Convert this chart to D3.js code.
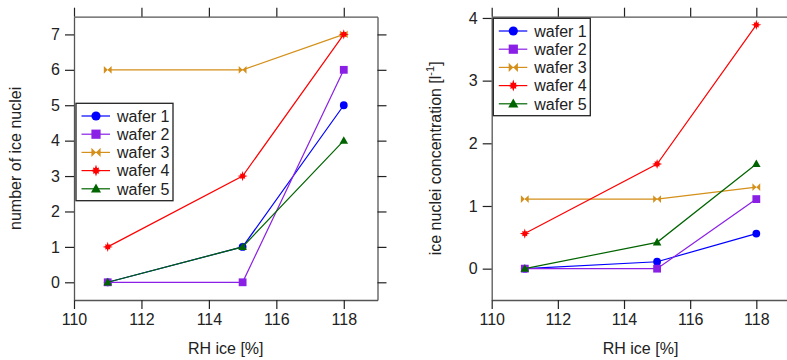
<!DOCTYPE html>
<html>
<head>
<meta charset="utf-8">
<script src="https://cdn.jsdelivr.net/npm/d3@7"></script>
<style>
  body { margin: 0; background: #fff; }
  svg { display: block; font-family: "Liberation Sans", Arial, sans-serif; }
  .tick text { font-size: 16px; fill: #222; }
</style>
</head>
<body>
<svg id="chart" width="787" height="360"></svg>
<script>
// RH ice values (x) shared by both panels
const rhIce = [111, 115, 118];
const seriesNames = ['wafer 1', 'wafer 2', 'wafer 3', 'wafer 4', 'wafer 5'];

// number of ice nuclei
const count1 = [0, 1, 5];
const count2 = [0, 0, 6];
const count3 = [6, 6, 7];
const count4 = [1, 3, 7];
const count5 = [0, 1, 4];

// ice nuclei concentration [1/l]
const conc1 = [0, 0.11, 0.56];
const conc2 = [0, 0, 1.11];
const conc3 = [1.11, 1.11, 1.30];
const conc4 = [0.56, 1.67, 3.89];
const conc5 = [0, 0.42, 1.67];

const xTicks = [110, 112, 114, 116, 118];
const countTicks = [0, 1, 2, 3, 4, 5, 6, 7];
const concTicks = [0, 1, 2, 3, 4];

const colors = ['#0000ff', '#8a1fe6', '#d4901a', '#ff0000', '#006400'];

// marker paths, centered at 0,0
function markerPath(i, s) {
    if (i === 0) return d3.symbol(d3.symbolCircle, Math.PI * s * s)();
    if (i === 1) return `M${-s},${-s}H${s}V${s}H${-s}Z`;
    if (i === 2) return `M${-s},${-s}L0,0L${-s},${s}Z M${s},${-s}L0,0L${s},${s}Z`;
    if (i === 3) {
        // 8 point star: long cardinal points, short diagonal ones
        const pts = [];
        for (let k = 0; k < 16; k++) {
            const a = k * Math.PI / 8 - Math.PI / 2;
            const r = k % 4 === 0 ? s * 1.3 : (k % 2 === 0 ? s * 0.95 : s * 0.6);
            pts.push([r * Math.cos(a), r * Math.sin(a)]);
        }
        return 'M' + pts.map(p => p.join(',')).join('L') + 'Z';
    }
    return `M0,${-s * 1.15}L${s * 1.1},${s * 0.8}L${-s * 1.1},${s * 0.8}Z`;
}

const svg = d3.select('#chart');

function panel(opts) {
    const x = d3.scaleLinear().domain([110, 119]).range(opts.xRange);
    const y = d3.scaleLinear().domain(opts.yDomain).range([300, 16.7]);
    const g = svg.append('g');

    const axes = [
        [d3.axisBottom(x).tickValues(xTicks).tickFormat(d3.format('d')), `translate(0,${y.range()[0]})`],
        [d3.axisTop(x).tickValues(xTicks).tickFormat(''), `translate(0,${y.range()[1]})`],
        [d3.axisLeft(y).tickValues(opts.yTicks).tickFormat(d3.format('d')), `translate(${x.range()[0]},0)`],
        [d3.axisRight(y).tickValues(opts.yTicks).tickFormat(''), `translate(${x.range()[1]},0)`]
    ];
    axes.forEach(([ax, tr]) => {
        const a = g.append('g').attr('transform', tr)
            .call(ax.tickSize(9).tickSizeOuter(0).tickPadding(5));
        a.select('.domain').attr('stroke', '#555').attr('stroke-width', 1.3);
        a.selectAll('.tick line').attr('stroke', '#222').attr('stroke-width', 1.2);
    });

    // axis titles
    g.append('text')
        .attr('x', d3.mean(x.range())).attr('y', 354)
        .attr('text-anchor', 'middle').attr('font-size', 16).attr('fill', '#222')
        .text('RH ice [%]');
    const yl = g.append('text')
        .attr('transform', `translate(${opts.yLabelX},${d3.mean(y.range())}) rotate(-90)`)
        .attr('text-anchor', 'middle').attr('font-size', 16).attr('fill', '#222');
    yl.append('tspan').text(opts.yLabel[0]);
    if (opts.yLabel[1]) {
        yl.append('tspan').attr('font-size', 11).attr('dy', -7).text(opts.yLabel[1]);
        yl.append('tspan').attr('dy', 7).text(opts.yLabel[2]);
    }

    // series
    const line = d3.line().x((d, i) => x(rhIce[i])).y(d => y(d));
    opts.series.forEach((vals, i) => {
        g.append('path').attr('d', line(vals))
            .attr('fill', 'none').attr('stroke', colors[i]).attr('stroke-width', 1.2);
        g.selectAll(null).data(vals).join('path')
            .attr('transform', (d, j) => `translate(${x(rhIce[j])},${y(d)})`)
            .attr('d', markerPath(i, 3.9))
            .attr('fill', colors[i]);
    });

    // legend
    const [lx, ly] = opts.legend;
    const leg = g.append('g').attr('transform', `translate(${lx},${ly})`);
    leg.append('rect').attr('width', 97).attr('height', 97.4)
        .attr('fill', '#fff').attr('stroke', '#222').attr('stroke-width', 1.3);
    seriesNames.forEach((name, i) => {
        const row = leg.append('g').attr('transform', `translate(0,${12.7 + i * 18.2})`);
        row.append('line').attr('x1', 5.5).attr('x2', 34)
            .attr('stroke', colors[i]).attr('stroke-width', 1.2);
        row.append('path').attr('transform', 'translate(20,0)')
            .attr('d', markerPath(i, 4.6)).attr('fill', colors[i]);
        row.append('text').attr('x', 41).attr('y', 5.7)
            .attr('font-size', 16).attr('fill', '#222').text(name);
    });
}

panel({
    xRange: [74, 377.5],
    yDomain: [-0.5, 7.5],
    yTicks: countTicks,
    yLabel: ['number of ice nuclei'],
    yLabelX: 21,
    series: [count1, count2, count3, count4, count5],
    legend: [76, 103.3]
});

panel({
    xRange: [491.7, 789.4],
    yDomain: [-0.5, 4.02],
    yTicks: concTicks,
    yLabel: ['ice nuclei concentration [l', '-1', ']'],
    yLabelX: 441,
    series: [conc1, conc2, conc3, conc4, conc5],
    legend: [493.3, 18.3]
});
</script>
</body>
</html>
